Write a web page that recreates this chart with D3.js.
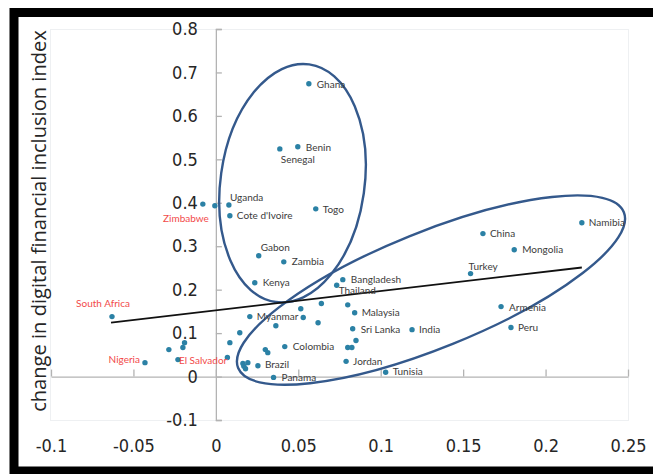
<!DOCTYPE html>
<html>
<head>
<meta charset="utf-8">
<script src="https://cdn.jsdelivr.net/npm/d3@7"></script>
<style>
  html, body { margin: 0; padding: 0; background: #ffffff; }
  svg { display: block; }
</style>
</head>
<body>
<svg id="chart" width="653" height="474"></svg>
<script>
// Countries (empty name = unlabelled economy)
const countries = [
  "Ghana", "Benin", "Senegal", "Uganda", "Cote d'Ivoire", "Zimbabwe", "", "Togo",
  "Gabon", "Zambia", "Kenya", "Bangladesh", "Thailand", "Namibia", "China", "Mongolia",
  "Turkey", "Armenia", "Peru", "Myanmar", "Malaysia", "Sri Lanka", "India", "Colombia",
  "Brazil", "Jordan", "Tunisia", "Panama", "South Africa", "Nigeria", "El Salvador",
  "", "", "", "", "", "", "", "", "", "", "", "", "", "", "", "", "", "", "", "", ""
];
// change in the x-axis indicator
const xValues = [
  0.0564, 0.0497, 0.0388, 0.0079, 0.0085, -0.0079, -0.0006, 0.0606,
  0.0260, 0.0412, 0.0236, 0.0770, 0.0733, 0.2220, 0.1620, 0.1810,
  0.1545, 0.1730, 0.1790, 0.0206, 0.0842, 0.0830, 0.1190, 0.0418,
  0.0255, 0.0790, 0.1030, 0.0350, -0.0630, -0.0430, -0.0230,
  -0.0285, -0.0200, -0.0190, 0.0070, 0.0085, 0.0145, 0.0364, 0.0515, 0.0530,
  0.0640, 0.0800, 0.0620, 0.0850, 0.0800, 0.0825, 0.0300, 0.0315,
  0.0164, 0.0194, 0.0180, 0.0170
];
// change in digital financial inclusion index
const yValues = [
  0.674, 0.529, 0.524, 0.395, 0.370, 0.397, 0.393, 0.386,
  0.278, 0.264, 0.216, 0.223, 0.210, 0.354, 0.329, 0.292,
  0.237, 0.161, 0.113, 0.138, 0.147, 0.110, 0.108, 0.069,
  0.025, 0.035, 0.010, -0.002, 0.138, 0.032, 0.039,
  0.062, 0.067, 0.078, 0.044, 0.078, 0.101, 0.117, 0.156, 0.136,
  0.168, 0.165, 0.124, 0.083, 0.067, 0.067, 0.062, 0.055,
  0.030, 0.032, 0.018, 0.024
];
const highlighted = ["South Africa", "Zimbabwe", "Nigeria", "El Salvador"];

// Linear trend line end points
const trendX = [-0.0636, 0.222];
const trendY = [0.124, 0.251];

// Axis ticks
const xTicks = [-0.1, -0.05, 0, 0.05, 0.1, 0.15, 0.2, 0.25];
const xTickLabels = ["-0.1", "-0.05", "0", "0.05", "0.1", "0.15", "0.2", "0.25"];
const yTicks = [-0.1, 0, 0.1, 0.2, 0.3, 0.4, 0.5, 0.6, 0.7, 0.8];
const yTickLabels = ["-0.1", "0", "0.1", "0.2", "0.3", "0.4", "0.5", "0.6", "0.7", "0.8"];

// Groups circled on the chart: centre in data units, radii in px, tilt in degrees
const groupCx = [0.0465, 0.1305];
const groupCy = [0.445, 0.199];
const groupRx = [72, 208];
const groupRy = [120, 58];
const groupTilt = [8, -22];

// Label placement relative to each dot: [dx, dy, anchor]
const labelPlace = {
  "Ghana": [8, 1, "start"], "Benin": [8, 1, "start"], "Senegal": [1, 11, "start"],
  "Uganda": [1, -7, "start"], "Cote d'Ivoire": [7, 0, "start"], "Zimbabwe": [6, 14, "end"],
  "Togo": [7, 1, "start"], "Gabon": [2, -8, "start"], "Zambia": [8, 0, "start"],
  "Kenya": [8, 0, "start"], "Bangladesh": [8, 0, "start"], "Thailand": [2, 5, "start"],
  "Namibia": [7, 0, "start"], "China": [7, 0, "start"], "Mongolia": [8, 0, "start"],
  "Turkey": [-2, -7, "start"], "Armenia": [8, 1, "start"], "Peru": [7, 0, "start"],
  "Myanmar": [7, 0, "start"], "Malaysia": [7, 0, "start"], "Sri Lanka": [8, 1, "start"],
  "India": [7, 0, "start"], "Colombia": [8, 0, "start"], "Brazil": [7, -1, "start"],
  "Jordan": [7, 0, "start"], "Tunisia": [7, -1, "start"], "Panama": [8, 0, "start"],
  "South Africa": [18, -13, "end"], "Nigeria": [-5, -3, "end"], "El Salvador": [1, 1, "start"]
};

const svg = d3.select("#chart");

const x = d3.scaleLinear().domain([-0.1, 0.25]).range([51, 628]);
const y = d3.scaleLinear().domain([-0.1, 0.8]).range([420, 29]);

// faint plot-area outline
svg.append("rect")
  .attr("x", 50.5).attr("y", 29.5)
  .attr("width", 578).attr("height", 391)
  .attr("fill", "none").attr("stroke", "#eef0f2").attr("stroke-width", 1);

const tickFont = '"Liberation Sans Narrow", "DejaVu Sans Condensed", sans-serif';

// x axis along y = 0, labels below the plot
const xAxis = d3.axisBottom(x)
  .tickValues(xTicks)
  .tickFormat((d, i) => xTickLabels[i])
  .tickSizeInner(-7).tickSizeOuter(0).tickPadding(63);
const gx = svg.append("g")
  .attr("transform", `translate(0,${y(0)})`)
  .call(xAxis);

// y axis along x = 0, labels to the left
const yAxis = d3.axisLeft(y)
  .tickValues(yTicks)
  .tickFormat((d, i) => yTickLabels[i])
  .tickSizeInner(-6).tickSizeOuter(-6).tickPadding(18);
const gy = svg.append("g")
  .attr("transform", `translate(${x(0)},0)`)
  .call(yAxis);

[gx, gy].forEach(g => {
  g.selectAll(".domain").attr("stroke", "#b3b3b3").attr("stroke-width", 1.3);
  g.selectAll(".tick line").attr("stroke", "#b3b3b3").attr("stroke-width", 1.3);
  g.selectAll(".tick text")
    .attr("fill", "#262626")
    .style("font-family", tickFont)
    .style("font-size", "18px");
});

// y axis title
const yTitle = svg.append("text")
  .attr("transform", "translate(46,221) rotate(-90)")
  .attr("text-anchor", "middle")
  .attr("fill", "#262626")
  .style("font-family", '"Open Sans", sans-serif')
  .style("font-size", "16px")
  .text("change in digital financial inclusion index");
const titleLen = yTitle.node().getComputedTextLength();
yTitle.style("font-size", (16 * 382 / titleLen).toFixed(2) + "px");

// circled groups
svg.append("g").selectAll("ellipse")
  .data(groupCx.map((c, i) => i))
  .join("ellipse")
  .attr("transform", i => `translate(${x(groupCx[i])},${y(groupCy[i])}) rotate(${groupTilt[i]})`)
  .attr("rx", i => groupRx[i])
  .attr("ry", i => groupRy[i])
  .attr("fill", "none")
  .attr("stroke", "#34598c")
  .attr("stroke-width", 2.4);

// trend line
svg.append("line")
  .attr("x1", x(trendX[0])).attr("y1", y(trendY[0]))
  .attr("x2", x(trendX[1])).attr("y2", y(trendY[1]))
  .attr("stroke", "#111111").attr("stroke-width", 1.8);

const pts = countries.map((c, i) => ({ name: c, xv: xValues[i], yv: yValues[i] }));

// points
svg.append("g").selectAll("circle")
  .data(pts)
  .join("circle")
  .attr("cx", d => x(d.xv))
  .attr("cy", d => y(d.yv))
  .attr("r", 2.7)
  .attr("fill", "#2b81a5");

// labels
svg.append("g").selectAll("text")
  .data(pts.filter(d => d.name !== ""))
  .join("text")
  .attr("x", d => x(d.xv) + labelPlace[d.name][0])
  .attr("y", d => y(d.yv) + labelPlace[d.name][1])
  .attr("dy", "0.35em")
  .attr("text-anchor", d => labelPlace[d.name][2])
  .attr("fill", d => highlighted.includes(d.name) ? "#f24a4a" : "#3b3b3b")
  .style("font-family", 'Lato, "Open Sans", sans-serif')
  .style("font-size", "10px")
  .text(d => d.name);

// outer black frame
svg.append("rect")
  .attr("x", 14).attr("y", 12.5)
  .attr("width", 700).attr("height", 458.5)
  .attr("fill", "none").attr("stroke", "#000000").attr("stroke-width", 9);
</script>
</body>
</html>
